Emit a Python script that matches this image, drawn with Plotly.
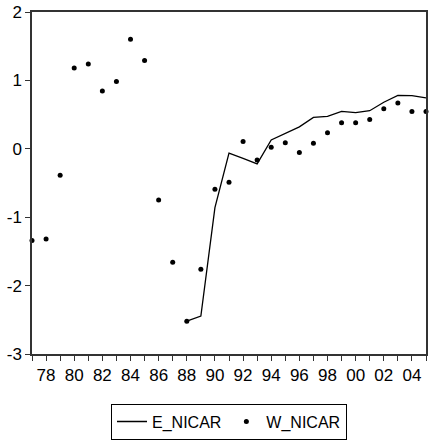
import plotly.graph_objects as go

# Annual series, 1977-2005
years = list(range(1977, 2006))

w_nicar = [-1.34, -1.32, -0.385, 1.18, 1.24, 0.845, 0.985, 1.60, 1.29, -0.75,
           -1.66, -2.52, -1.76, -0.59, -0.49, 0.105, -0.165, 0.023, 0.09, -0.055,
           0.08, 0.235, 0.38, 0.38, 0.427, 0.586, 0.668, 0.547, 0.547]

e_years = list(range(1988, 2006))
e_nicar = [-2.52, -2.445, -0.86, -0.064, -0.14, -0.22, 0.13, 0.225, 0.32, 0.46,
           0.475, 0.547, 0.528, 0.557, 0.68, 0.78, 0.778, 0.745]

x_tick_vals = years
x_tick_text = ["", "78", "", "80", "", "82", "", "84", "", "86", "", "88", "", "90",
               "", "92", "", "94", "", "96", "", "98", "", "00", "", "02", "", "04", ""]
y_tick_vals = [-3, -2, -1, 0, 1, 2]
y_tick_text = ["-3", "-2", "-1", "0", "1", "2"]

fig = go.Figure()
fig.add_trace(go.Scatter(
    x=e_years, y=e_nicar, mode="lines", name="E_NICAR",
    line=dict(color="black", width=1.3), cliponaxis=False,
))
fig.add_trace(go.Scatter(
    x=years, y=w_nicar, mode="markers", name="W_NICAR",
    marker=dict(color="black", size=5), cliponaxis=False,
))

axis_common = dict(
    showgrid=False, zeroline=False, showline=True, mirror=True,
    linecolor="#333333", linewidth=1.5, ticks="outside", ticklen=5,
    tickcolor="#333333", tickwidth=1,
    tickfont=dict(family="Liberation Sans, Arial, sans-serif", size=17, color="black"),
)

fig.update_layout(
    width=430, height=442,
    margin=dict(l=32, r=2, t=12, b=84),
    paper_bgcolor="white", plot_bgcolor="white",
    xaxis=dict(range=[1977, 2005], tickmode="array", tickvals=x_tick_vals,
               ticktext=x_tick_text, **axis_common),
    yaxis=dict(range=[-3, 2], tickmode="array", tickvals=y_tick_vals,
               ticktext=y_tick_text, **axis_common),
    legend=dict(
        orientation="h", x=0.5, xanchor="center", y=-0.145, yanchor="top",
        bordercolor="black", borderwidth=1, bgcolor="white",
        font=dict(family="Liberation Sans, Arial, sans-serif", size=16, color="black"),
        itemwidth=30,
    ),
    showlegend=True,
)

fig.write_html("out.html")
